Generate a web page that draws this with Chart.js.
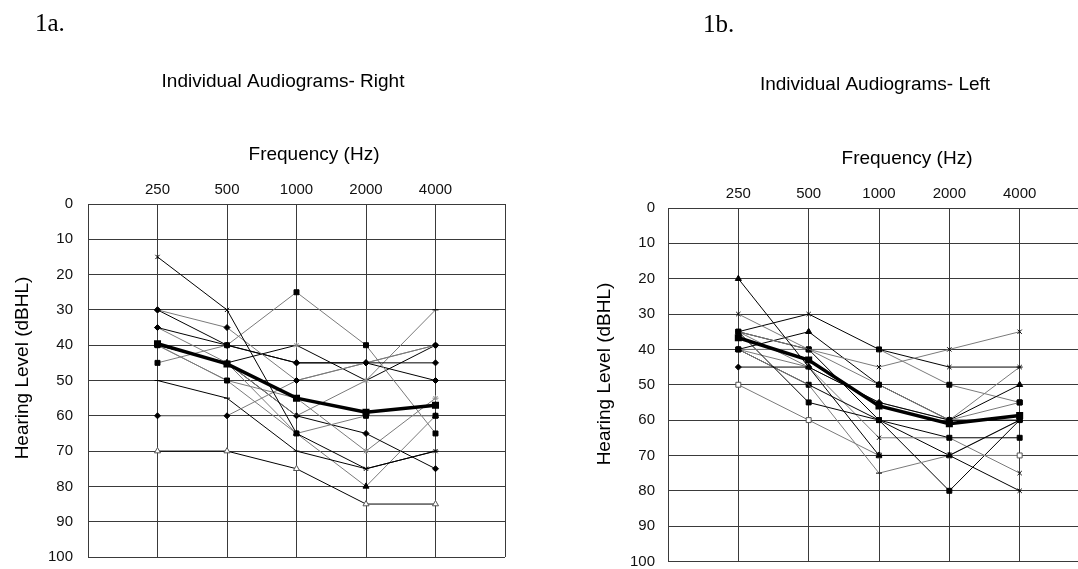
<!DOCTYPE html>
<html>
<head>
<meta charset="utf-8">
<script src="https://cdn.jsdelivr.net/npm/chart.js@4.4.1/dist/chart.umd.min.js"></script>
<style>
  html, body { margin: 0; padding: 0; background: #fff; overflow: hidden; }
  #wrap { position: relative; width: 1078px; height: 569px; overflow: hidden; }
  #right { position: absolute; left: 0; top: 0; }
  #left { position: absolute; left: 540px; top: 0; }
</style>
</head>
<body>
<div id="wrap">
  <canvas id="right" width="540" height="569"></canvas>
  <canvas id="left" width="560" height="569"></canvas>
</div>
<script>
// frequences (Hz) et graduations
const freqLabels = ['250', '500', '1000', '2000', '4000'];

// oreille droite : un tableau par sujet (dBHL)
const r01 = [15, 30, 65, 75, 70];
const r02 = [30, 35, 50, 45, 40];
const r03 = [30, 40, 45, 45, 45];
const r04 = [45, 40, 25, 40, 65];
const r05 = [70, 70, 75, 85, 85];
const r06 = [60, 60, 50, 45, 40];
const r07 = [50, 55, 70, 75, 70];
const r08 = [40, 50, 65, 60, 60];
const r09 = [35, 40, 45, 45, 50];
const r10 = [40, 45, 65, 80, 60];
const r11 = [40, 45, 40, 50, 40];
const r12 = [35, 45, 60, 50, 30];
const r13 = [40, 45, 60, 65, 75];
const r14 = [40, 50, 55, 70, 55];
const rightMean = [39.6, 45.3, 55, 59, 57];

// oreille gauche
const l01 = [20, 45, 70, 70, 60];
const l02 = [30, 40, 45, 40, 35];
const l03 = [35, 30, 40, 45, 45];
const l04 = [35, 40, 50, 60, 55];
const l05 = [40, 35, 50, 60, 50];
const l06 = [40, 40, 40, 50, 55];
const l07 = [45, 45, 55, 60, 60];
const l08 = [50, 60, 70, 70, 70];
const l09 = [35, 55, 60, 65, 65];
const l10 = [40, 50, 75, 70, 60];
const l11 = [40, 50, 60, 80, 60];
const l12 = [40, 45, 65, 65, 75];
const l13 = [35, 40, 60, 70, 80];
const l14 = [35, 45, 55, 60, 45];
const leftMean = [36.7, 43, 56, 61, 58.7];

// styles des marqueurs (forme, fond)
const MK = {
    cross:   { pointStyle: 'crossRot', pointRadius: 3, fill: '#000' },
    diamond: { pointStyle: 'rectRot', pointRadius: 3, fill: '#000' },
    square:  { pointStyle: 'rect', pointRadius: 3.5, fill: '#000' },
    osquare: { pointStyle: 'rect', pointRadius: 3.5, fill: '#fff' },
    tri:     { pointStyle: 'triangle', pointRadius: 3.5, fill: '#000' },
    otri:    { pointStyle: 'triangle', pointRadius: 3.5, fill: '#fff' },
    star:    { pointStyle: 'star', pointRadius: 3, fill: '#888' },
    dash:    { pointStyle: 'line', pointRadius: 3, fill: '#000' }
};

const toPoints = vals => vals.map((v, i) => ({ x: i + 1, y: v }));

function subject(vals, mk, i) {
    const lineColor = i % 2 === 0 ? '#000000' : '#7a7a7a';
    const m = MK[mk];
    return {
        data: toPoints(vals),
        borderColor: lineColor,
        borderWidth: 1,
        pointStyle: m.pointStyle,
        pointRadius: m.pointRadius,
        pointBackgroundColor: m.fill,
        pointBorderColor: m.fill === '#fff' ? '#555' : m.fill,
        pointBorderWidth: 1,
        order: 1
    };
}

function meanSet(vals) {
    return {
        data: toPoints(vals),
        borderColor: '#000',
        borderWidth: 3.5,
        pointStyle: 'rect',
        pointRadius: 2.5,
        pointBackgroundColor: '#000',
        pointBorderColor: '#000',
        order: 0
    };
}

// textes libres : etiquette, titre, titres d'axes
const textPlugin = {
    id: 'texts',
    afterDraw(chart) {
        const items = chart.config.options.textItems || [];
        const ctx = chart.ctx;
        items.forEach(t => {
            ctx.save();
            ctx.font = t.font;
            ctx.fillStyle = '#000';
            ctx.textAlign = t.align || 'center';
            ctx.textBaseline = t.baseline || 'middle';
            ctx.translate(t.x, t.y);
            if (t.rot) ctx.rotate(t.rot);
            ctx.fillText(t.text, 0, 0);
            ctx.restore();
        });
    }
};

const gridColor = '#3a3a3a';

function makeChart(id, sets, g) {
    return new Chart(document.getElementById(id), {
        type: 'line',
        data: { datasets: sets },
        plugins: [textPlugin],
        options: {
            responsive: false,
            animation: false,
            textItems: g.texts,
            layout: { padding: { left: 0, top: 0, right: g.padRight, bottom: g.padBottom } },
            plugins: { legend: { display: false }, tooltip: { enabled: false } },
            scales: {
                x: {
                    type: 'linear',
                    position: 'top',
                    min: 0,
                    max: 6,
                    afterFit: s => { s.height = g.top; s.paddingLeft = 0; s.paddingRight = 0; },
                    ticks: {
                        stepSize: 1,
                        padding: 5,
                        color: '#111',
                        font: { family: 'Liberation Sans, Arial, sans-serif', size: 15 },
                        callback: v => freqLabels[v - 1] || ''
                    },
                    grid: { color: gridColor, lineWidth: 1, drawTicks: false },
                    border: { display: false }
                },
                y: {
                    reverse: true,
                    min: 0,
                    max: 100,
                    afterFit: s => { s.width = g.left; s.paddingTop = 0; s.paddingBottom = 0; },
                    ticks: {
                        stepSize: 10,
                        padding: g.tickPad,
                        color: '#111',
                        font: { family: 'Liberation Sans, Arial, sans-serif', size: 15 }
                    },
                    grid: { color: gridColor, lineWidth: 1, drawTicks: false },
                    border: { display: false }
                }
            }
        }
    });
}

const sans19 = '19px "Liberation Sans", Arial, sans-serif';
const serif25 = '25px "Liberation Serif", "Times New Roman", serif';

const rightSets = [meanSet(rightMean)].concat([
    [r01, 'cross'], [r02, 'diamond'], [r03, 'diamond'], [r04, 'square'],
    [r05, 'otri'], [r06, 'diamond'], [r07, 'dash'], [r08, 'square'],
    [r09, 'diamond'], [r10, 'tri'], [r11, 'star'], [r12, 'dash'],
    [r13, 'diamond'], [r14, 'star']
].map((s, i) => subject(s[0], s[1], i)));

const leftSets = [meanSet(leftMean)].concat([
    [l01, 'tri'], [l02, 'cross'], [l03, 'cross'], [l04, 'square'],
    [l05, 'tri'], [l06, 'square'], [l07, 'diamond'], [l08, 'osquare'],
    [l09, 'square'], [l10, 'dash'], [l11, 'square'], [l12, 'cross'],
    [l13, 'cross'], [l14, 'dash']
].map((s, i) => subject(s[0], s[1], i)));

makeChart('right', rightSets, {
    left: 88, top: 204, padRight: 35, padBottom: 12, tickPad: 15,
    texts: [
        { text: '1a.', x: 35, y: 31, font: serif25, align: 'left', baseline: 'alphabetic' },
        { text: 'Individual Audiograms- Right', x: 283, y: 82, font: sans19 },
        { text: 'Frequency (Hz)', x: 314, y: 155, font: sans19 },
        { text: 'Hearing Level (dBHL)', x: 23, y: 368, font: sans19, rot: -Math.PI / 2 }
    ]
});

makeChart('left', leftSets, {
    left: 128, top: 208, padRight: 10, padBottom: 4, tickPad: 13,
    texts: [
        { text: '1b.', x: 163, y: 32, font: serif25, align: 'left', baseline: 'alphabetic' },
        { text: 'Individual Audiograms- Left', x: 335, y: 85, font: sans19 },
        { text: 'Frequency (Hz)', x: 367, y: 159, font: sans19 },
        { text: 'Hearing Level (dBHL)', x: 65, y: 374, font: sans19, rot: -Math.PI / 2 }
    ]
});
</script>
</body>
</html>
